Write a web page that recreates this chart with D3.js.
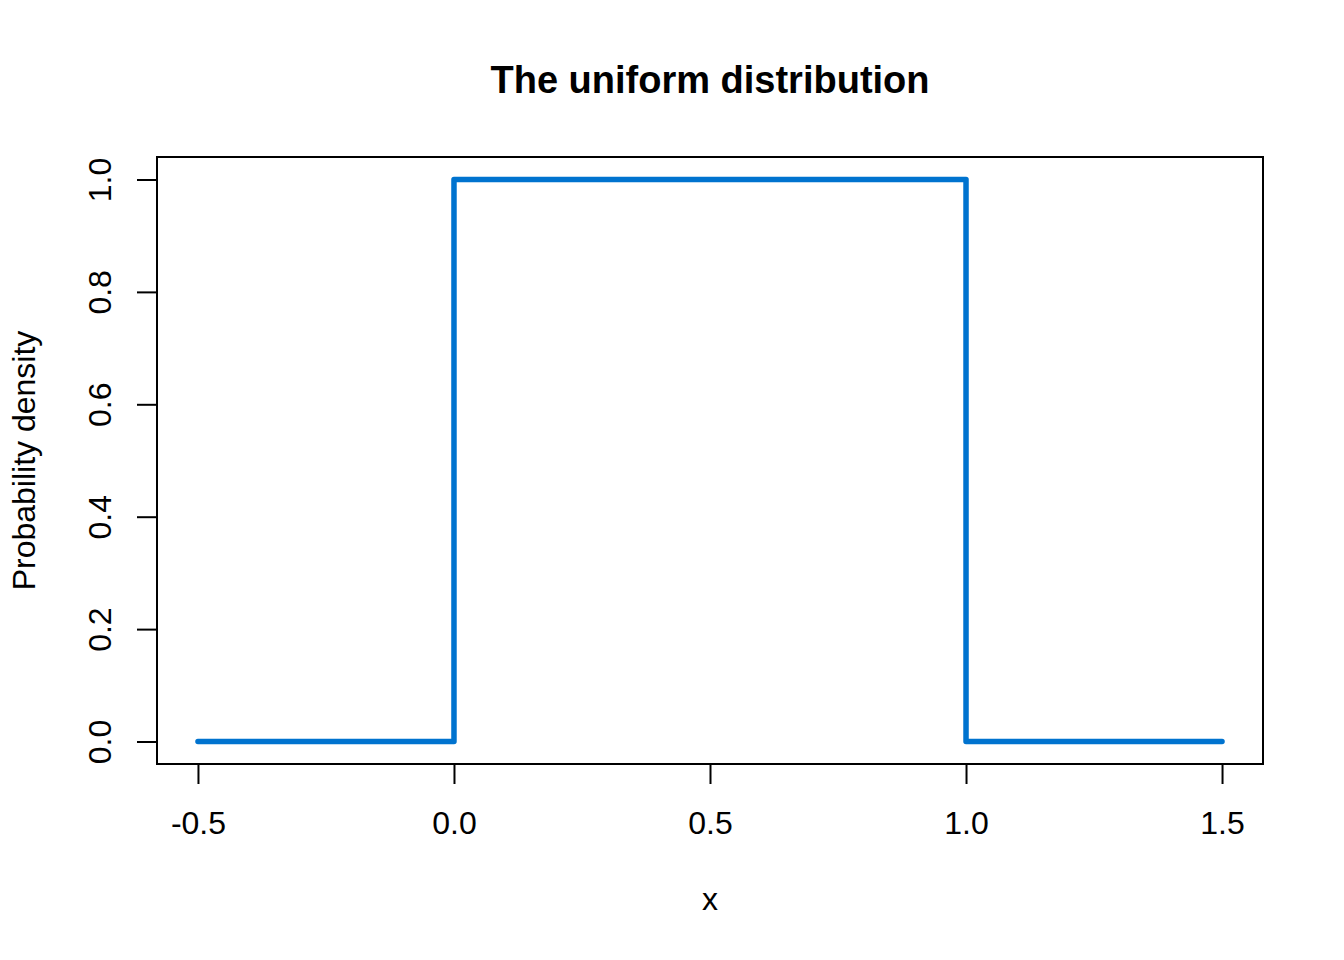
<!DOCTYPE html>
<html><head><meta charset="utf-8">
<script src="https://cdn.jsdelivr.net/npm/d3@7"></script>
<style>body{margin:0;background:#fff}text{font-family:"Liberation Sans",Arial,sans-serif}</style>
</head><body>
<svg id="c" width="1344" height="960"></svg>
<script>
const xValues = [-0.5, 0, 0, 1, 1, 1.5];
const densityValues = [0, 0, 1, 1, 0, 0];
const xTicks = [-0.5, 0, 0.5, 1, 1.5];
const yTicks = [0, 0.2, 0.4, 0.6, 0.8, 1.0];
const title = "The uniform distribution";
const xLabel = "x";
const yLabel = "Probability density";

const fmt = d => d3.format(".1f")(d).replace("\u2212", "-");
const svg = d3.select("#c");
const L = 157, R = 1263, T = 157, B = 764;
const x = d3.scaleLinear().domain([-0.58, 1.58]).range([L, R]);
const y = d3.scaleLinear().domain([-0.04, 1.04]).range([B, T]);

svg.append("rect").attr("x", L).attr("y", T).attr("width", R - L).attr("height", B - T)
  .attr("fill", "none").attr("stroke", "#000").attr("stroke-width", 2);

const xa = svg.append("g").attr("transform", `translate(0,${B})`)
  .call(d3.axisBottom(x).tickValues(xTicks).tickFormat(fmt).tickSize(20).tickPadding(27));
xa.select(".domain").attr("d", `M${x(-0.5)},0H${x(1.5)}`).attr("stroke-width", 2);
xa.selectAll(".tick line").attr("stroke-width", 2);
xa.selectAll("text").attr("font-size", 32).attr("fill", "#000").attr("font-family", "Liberation Sans, Arial, sans-serif");

const ya = svg.append("g").attr("transform", `translate(${L},0)`)
  .call(d3.axisLeft(y).tickValues(yTicks).tickFormat(fmt).tickSize(20).tickPadding(0));
ya.select(".domain").attr("d", `M0,${y(0)}V${y(1)}`).attr("stroke-width", 2);
ya.selectAll(".tick line").attr("stroke-width", 2);
ya.selectAll(".tick text").attr("font-size", 32).attr("fill", "#000")
  .attr("font-family", "Liberation Sans, Arial, sans-serif")
  .attr("x", null).attr("dy", null)
  .attr("text-anchor", "middle")
  .attr("transform", "translate(-57,0) rotate(-90)")
  .attr("dy", "0.35em");

const line = d3.line().x((d, i) => x(xValues[i])).y(d => y(d));
svg.append("path").datum(densityValues).attr("d", line)
  .attr("fill", "none").attr("stroke", "#0073CF").attr("stroke-width", 5.5)
  .attr("stroke-linejoin", "round").attr("stroke-linecap", "round");

svg.append("text").attr("x", (L + R) / 2).attr("y", 93).attr("text-anchor", "middle")
  .attr("font-size", 38).attr("font-weight", "bold").text(title);
svg.append("text").attr("x", (L + R) / 2).attr("y", 910).attr("text-anchor", "middle")
  .attr("font-size", 32).text(xLabel);
svg.append("text").attr("transform", `translate(35,${(T + B) / 2}) rotate(-90)`).attr("text-anchor", "middle")
  .attr("font-size", 32).text(yLabel);
</script>
</body></html>
